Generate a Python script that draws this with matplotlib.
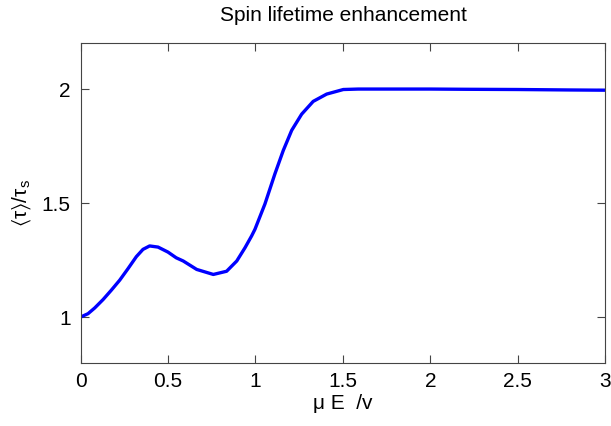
import numpy as np
import matplotlib
matplotlib.use('Agg')
import matplotlib.pyplot as plt

plt.rcParams['font.family'] = ['Liberation Sans', 'DejaVu Sans']
plt.rcParams['mathtext.fontset'] = 'custom'
plt.rcParams['mathtext.rm'] = 'Liberation Sans'
plt.rcParams['mathtext.it'] = 'Liberation Sans'
plt.rcParams['mathtext.default'] = 'regular'

# values
field = [0.0, 0.043, 0.081, 0.129, 0.176, 0.224, 0.271, 0.319, 0.357, 0.395,
         0.443, 0.50, 0.547, 0.587, 0.664, 0.759, 0.835, 0.893, 0.94, 0.978,
         0.997, 1.054, 1.111, 1.159, 1.207, 1.264, 1.33, 1.407, 1.502, 1.587,
         1.8, 2.0, 2.2, 2.5, 2.8, 3.0]
lifetime = [1.0, 1.015, 1.040, 1.077, 1.118, 1.162, 1.212, 1.265, 1.297, 1.312,
            1.307, 1.285, 1.260, 1.246, 1.209, 1.187, 1.201, 1.246, 1.304, 1.356,
            1.385, 1.496, 1.628, 1.731, 1.819, 1.890, 1.946, 1.978, 1.998, 2.0,
            2.0, 2.0, 1.999, 1.998, 1.996, 1.995]

fig = plt.figure(figsize=(6.11, 4.26), dpi=100)
ax = fig.add_axes([0.1318, 0.1486, 0.859, 0.7494])

ax.plot(field, lifetime, color='#0000ff', linewidth=2.4,
        solid_joinstyle='round', solid_capstyle='round')

ax.set_xlim(0, 3)
ax.set_ylim(0.8, 2.2)
ax.set_xticks([0, 0.5, 1, 1.5, 2, 2.5, 3])
ax.set_xticklabels(['0', '0.5', '1', '1.5', '2', '2.5', '3'])
ax.set_yticks([1, 1.5, 2])
ax.set_yticklabels(['1', '1.5', '2'])

ax.tick_params(direction='in', length=6, width=0.8, top=True, right=True,
               labelsize=15, pad=7, color='#444444')
for s in ax.spines.values():
    s.set_color('#444444')
    s.set_linewidth(0.8)

ax.set_title('Spin lifetime enhancement', fontsize=15, pad=16)
ax.set_xlabel('\u03bc E  /v', fontsize=15, labelpad=2)
ax.set_ylabel(r'$\langle\tau\rangle/\tau_s$', fontsize=15, labelpad=6)

fig.savefig('out.png', dpi=100)
